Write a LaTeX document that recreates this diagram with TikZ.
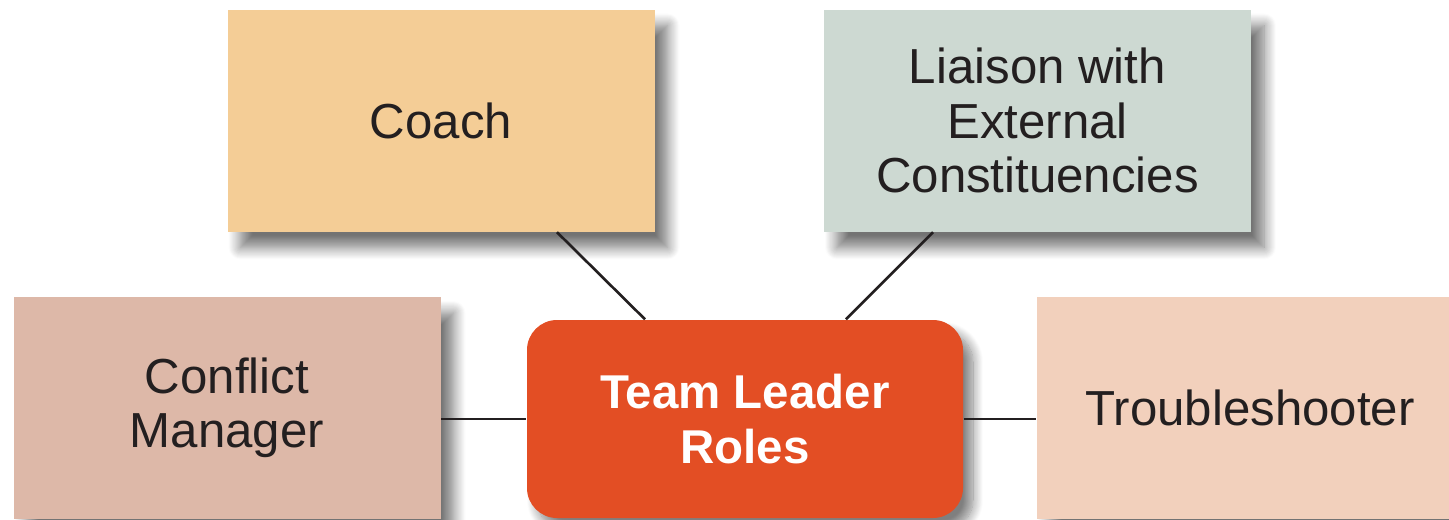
\documentclass[tikz,border=0pt]{standalone}
\usepackage{fontspec}
\setmainfont{Liberation Sans}
\usetikzlibrary{shadows.blur}
\definecolor{coachfill}{HTML}{F4CD96}
\definecolor{liaisonfill}{HTML}{CDD9D2}
\definecolor{conflictfill}{HTML}{DDB8A8}
\definecolor{troublefill}{HTML}{F2D0BC}
\definecolor{leaderfill}{HTML}{E34E24}
\definecolor{inkgray}{HTML}{231F20}
\tikzset{
	rolebox/.style={rectangle, inner sep=0pt, align=center, text=inkgray,
		minimum width=4.27cm, minimum height=2.22cm,
		font=\fontsize{14}{15.5}\selectfont,
		blur shadow={shadow xshift=0.13cm, shadow yshift=-0.16cm, shadow blur radius=0.12cm, shadow blur steps=12, shadow opacity=55}},
	leaderbox/.style={rectangle, rounded corners=0.3cm, inner sep=0pt, align=center, text=white,
		minimum width=4.36cm, minimum height=1.98cm, fill=leaderfill,
		font=\fontsize{13.5}{15.5}\selectfont\bfseries,
		blur shadow={shadow xshift=0.1cm, shadow yshift=-0.12cm, shadow blur radius=0.1cm, shadow blur steps=12, shadow opacity=50}},
	link/.style={line width=0.75pt, draw=inkgray}
}

\begin{document}
\begin{tikzpicture}
				\useasboundingbox (0,0) rectangle (14.49,5.19);
				\clip (0,0) rectangle (14.49,5.19);
				
				\node[rolebox, fill=coachfill] (coach) at (4.41,3.985) {Coach};
				\node[rolebox, fill=liaisonfill] (liaison) at (10.375,3.985) {Liaison with\\External\\Constituencies};
				\node[rolebox, fill=conflictfill] (conflict) at (2.27,1.11) {Conflict\\Manager};
				\node[rolebox, fill=troublefill] (trouble) at (12.5,1.11) {Troubleshooter};
				\node[leaderbox] (leader) at (7.45,1.0) {Team Leader\\Roles};
				
				\draw[link] ([xshift=1.16cm]coach.south) -- ([xshift=-1.0cm]leader.north);
				\draw[link] ([xshift=-1.045cm]liaison.south) -- ([xshift=1.01cm]leader.north);
				\draw[link] (conflict.east |- leader.west) -- (leader.west);
				\draw[link] (leader.east) -- (trouble.west |- leader.east);
\end{tikzpicture}
\end{document}
